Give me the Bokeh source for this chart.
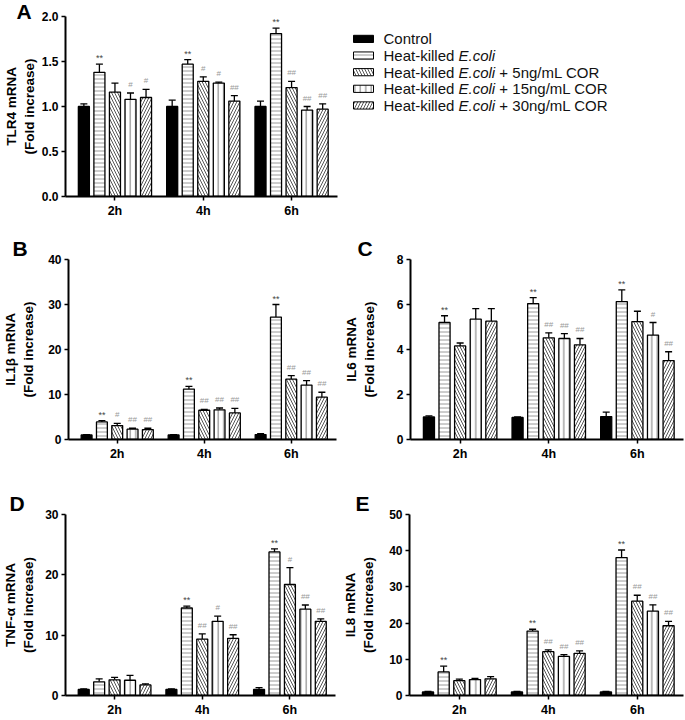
from bokeh.plotting import figure
from bokeh.models import (ColumnDataSource, Whisker, TeeHead, FixedTicker, Range1d,
                          PrintfTickFormatter)
from bokeh.layouts import column, row
from bokeh.embed import file_html
from bokeh.resources import INLINE
from bokeh.core.properties import value

# ---------------- data ----------------
times = ["2h", "4h", "6h"]
legend_prefix = ["Control", "Heat-killed", "Heat-killed", "Heat-killed", "Heat-killed"]
legend_italic = ["", "E.coli", "E.coli", "E.coli", "E.coli"]
legend_suffix = ["", "", "+ 5ng/mL COR", "+ 15ng/mL COR", "+ 30ng/mL COR"]

# rows: Control, HK E.coli, +5ng, +15ng, +30ng ; columns: 2h, 4h, 6h
tlr4_mean = [[1.00, 1.00, 1.00], [1.38, 1.47, 1.81], [1.16, 1.28, 1.21], [1.08, 1.26, 0.96], [1.10, 1.06, 0.97]]
tlr4_sem = [[0.03, 0.07, 0.06], [0.09, 0.05, 0.06], [0.10, 0.05, 0.07], [0.07, 0.01, 0.04], [0.09, 0.06, 0.06]]
tlr4_marks = [["", "", ""], ["**", "**", "**"], ["", "#", "##"], ["#", "#", "##"], ["#", "##", "##"]]

il1b_mean = [[1.0, 1.0, 1.1], [3.9, 11.2, 27.2], [3.1, 6.5, 13.4], [2.3, 6.6, 12.1], [2.2, 5.9, 9.4]]
il1b_sem = [[0.1, 0.1, 0.2], [0.3, 0.6, 2.8], [0.5, 0.2, 0.8], [0.2, 0.4, 1.0], [0.3, 1.0, 1.1]]
il1b_marks = [["", "", ""], ["**", "**", "**"], ["#", "##", "##"], ["##", "##", "##"], ["##", "##", "##"]]

il6_mean = [[1.00, 0.98, 1.02], [5.20, 6.04, 6.13], [4.16, 4.52, 5.24], [5.35, 4.49, 4.64], [5.26, 4.21, 3.51]]
il6_sem = [[0.05, 0.02, 0.20], [0.30, 0.27, 0.52], [0.13, 0.22, 0.46], [0.47, 0.22, 0.56], [0.56, 0.28, 0.39]]
il6_marks = [["", "", ""], ["**", "**", "**"], ["", "##", ""], ["", "##", "#"], ["", "##", "##"]]

tnf_mean = [[1.0, 1.0, 1.0], [2.26, 14.5, 23.8], [2.6, 9.36, 18.4], [2.53, 12.3, 14.3], [1.76, 9.47, 12.3]]
tnf_sem = [[0.1, 0.1, 0.3], [0.5, 0.3, 0.5], [0.4, 0.85, 2.8], [0.8, 0.85, 0.7], [0.17, 0.6, 0.4]]
tnf_marks = [["", "", ""], ["", "**", "**"], ["", "##", "#"], ["", "#", "##"], ["", "##", "##"]]

il8_mean = [[1.0, 1.0, 1.0], [6.5, 17.8, 38.1], [4.1, 12.1, 26.05], [4.4, 10.8, 23.3], [4.6, 11.65, 19.27]]
il8_sem = [[0.1, 0.1, 0.1], [1.6, 0.5, 2.1], [0.4, 0.5, 1.65], [0.3, 0.5, 1.75], [0.6, 0.65, 1.2]]
il8_marks = [["", "", ""], ["**", "**", "**"], ["", "##", "##"], ["", "##", "##"], ["", "##", "##"]]

# ---------------- style ----------------
FONT = "Liberation Sans"
OFFSET = 0.176
BAR_W = 0.125
STYLES = [
    dict(fill_color="black", hatch_pattern=None),
    dict(fill_color="white", hatch_pattern="-", hatch_color="#9a9a9a", hatch_scale=4, hatch_weight=1),
    dict(fill_color="white", hatch_pattern="\\", hatch_color="#555555", hatch_scale=6, hatch_weight=1),
    dict(fill_color="white", hatch_pattern="|", hatch_color="#777777", hatch_scale=5.5, hatch_weight=1),
    dict(fill_color="white", hatch_pattern="/", hatch_color="#555555", hatch_scale=6, hatch_weight=1),
]


def make_panel(mean, sem, marks, ymax, yticks, ylabel, letter, width, height, borders,
               label_standoff, letter_offset, letter_standoff, fmt=None):
    p = figure(width=width, height=height, x_range=Range1d(-0.56, 2.52), y_range=Range1d(0, ymax),
               output_backend="svg", toolbar_location=None, tools="")
    p.min_border_left, p.min_border_right, p.min_border_top, p.min_border_bottom = borders
    p.outline_line_color = None
    p.grid.visible = False
    for k in range(5):
        xs = [g + (k - 2) * OFFSET for g in range(len(times))]
        upper = [m + s for m, s in zip(mean[k], sem[k])]
        mk = marks[k]
        src = ColumnDataSource(dict(
            x=xs, top=mean[k], upper=upper, mark=mk,
            mcolor=["#444444" if m.startswith("*") else "#999999" for m in mk],
            msize=["9px" if m.startswith("*") else "8px" for m in mk],
            moff=[-1 if m.startswith("*") else -4 for m in mk],
        ))
        p.vbar(x="x", top="top", bottom=0, width=BAR_W, source=src,
               line_color="black", line_width=1.3, **STYLES[k])
        w = Whisker(base="x", upper="upper", lower="top", source=src, line_color="black",
                    line_width=1.3, upper_head=TeeHead(size=7, line_color="black", line_width=1.3),
                    lower_head=None)
        p.add_layout(w)
        p.text(x="x", y="upper", text="mark", source=src, text_color="mcolor",
               text_font_size="msize", text_align="center", text_baseline="bottom",
               y_offset="moff", text_font=value(FONT))

    xa = p.xaxis[0]
    ya = p.yaxis[0]
    xa.ticker = FixedTicker(ticks=list(range(len(times))))
    xa.major_label_overrides = {i: t for i, t in enumerate(times)}
    ya.ticker = FixedTicker(ticks=yticks)
    if fmt:
        ya.formatter = PrintfTickFormatter(format=fmt)
    for ax in (xa, ya):
        ax.axis_line_width = 2
        ax.axis_line_color = "black"
        ax.major_tick_line_width = 1.5
        ax.major_tick_line_color = "black"
        ax.major_tick_out = 4
        ax.major_tick_in = 0
        ax.minor_tick_line_color = None
        ax.major_label_text_font = FONT
        ax.major_label_text_font_style = "bold"
        ax.major_label_text_color = "black"
        ax.major_label_standoff = 3
    xa.major_label_text_font_size = "12.5px"
    ya.major_label_text_font_size = "12px"
    ya.axis_label = ylabel
    ya.axis_label_text_font = FONT
    ya.axis_label_text_font_style = "bold"
    ya.axis_label_text_font_size = "13.5px"
    ya.axis_label_text_color = "black"
    ya.axis_label_standoff = label_standoff

    # panel letter as the figure title
    p.title.text = letter
    p.title.align = "left"
    p.title.vertical_align = "bottom"
    p.title.offset = letter_offset
    p.title.standoff = letter_standoff
    p.title.text_font = FONT
    p.title.text_font_style = "bold"
    p.title.text_font_size = "21px"
    p.title.text_color = "black"
    return p


pA = make_panel(tlr4_mean, tlr4_sem, tlr4_marks, 2.0, [0, 0.5, 1.0, 1.5, 2.0],
                "TLR4 mRNA\n(Fold increase)", "A", 340, 225, (57, 3, 16, 29), 2, -49, -12, "%.1f")
pB = make_panel(il1b_mean, il1b_sem, il1b_marks, 40, [0, 10, 20, 30, 40],
                "IL1β mRNA\n(Fold increase)", "B", 340, 245, (61, 4, 32, 31), 9, -56, 0)
pC = make_panel(il6_mean, il6_sem, il6_marks, 8, [0, 2, 4, 6, 8],
                "IL6 mRNA\n(Fold increase)", "C", 345, 245, (68, 2, 34, 31), 17, -53, 0)
pD = make_panel(tnf_mean, tnf_sem, tnf_marks, 30, [0, 10, 20, 30],
                "TNF-α mRNA\n(Fold increase)", "D", 340, 250, (61, 5, 44, 24), 6, -56, 0)
pE = make_panel(il8_mean, il8_sem, il8_marks, 50, [0, 10, 20, 30, 40, 50],
                "IL8 mRNA\n(Fold increase)", "E", 345, 250, (69, 2, 43, 25), 10, -54, 0)

# ---------------- legend ----------------
ARIAL_W = {"H": 722, "e": 556, "a": 556, "t": 278, "-": 333, "k": 500, "i": 222, "l": 222,
           "d": 556, " ": 278, "E": 667, ".": 278, "c": 500, "o": 556}


def tw(s, size):
    return sum(ARIAL_W.get(ch, 556) for ch in s) * size / 1000.0


LEG_FS = 15
lg = figure(width=345, height=225, x_range=Range1d(0, 345), y_range=Range1d(225, 0),
            output_backend="svg", toolbar_location=None, tools="",
            x_axis_location=None, y_axis_location=None, min_border=0)
lg.outline_line_color = None
lg.grid.visible = False
row_y = [28 + 20.8 * k for k in range(5)]
sw_l, sw_r, txt_x = 13, 33, 43
for k in range(5):
    y = row_y[k]
    lg.quad(left=[sw_l], right=[sw_r], top=[y - 4.5], bottom=[y + 4.5],
            line_color="black", line_width=1, **STYLES[k])
    lg.text(x=[txt_x], y=[y], text=[legend_prefix[k]], text_font=value(FONT),
            text_font_size=f"{LEG_FS}px", text_baseline="middle", text_color="#111111")
    if legend_italic[k]:
        xi = txt_x + tw(legend_prefix[k] + " ", LEG_FS)
        lg.text(x=[xi], y=[y], text=[legend_italic[k]], text_font=value(FONT),
                text_font_style="italic", text_font_size=f"{LEG_FS}px",
                text_baseline="middle", text_color="#111111")
        if legend_suffix[k]:
            xs_ = xi + tw(legend_italic[k] + " ", LEG_FS)
            lg.text(x=[xs_], y=[y], text=[legend_suffix[k]], text_font=value(FONT),
                    text_font_size=f"{LEG_FS}px", text_baseline="middle", text_color="#111111")

layout = column(row(pA, lg), row(pB, pC), row(pD, pE))
open("out.html", "w").write(file_html(layout, INLINE, title="Cytokine mRNA"))
